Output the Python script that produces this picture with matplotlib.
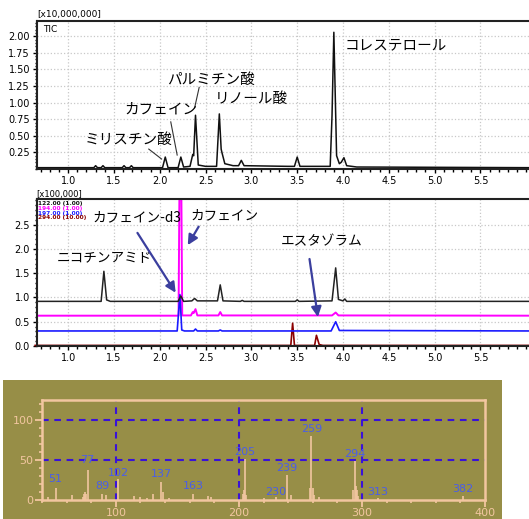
import matplotlib
matplotlib.use('Agg')
import matplotlib.pyplot as plt
from matplotlib.patches import Rectangle
from matplotlib.ticker import MultipleLocator, FormatStrFormatter

JP = ['Noto Sans CJK JP', 'DejaVu Sans']

# TIC trace (retention time in min, intensity x10,000,000)
tic_t = [0.66, 1.28, 1.30, 1.32, 1.36, 1.38, 1.40, 1.59, 1.61, 1.63, 1.67, 1.69, 1.71,
         2.03, 2.06, 2.09, 2.20, 2.23, 2.26, 2.33, 2.36, 2.37, 2.39, 2.42, 2.50,
         2.62, 2.65, 2.67, 2.68, 2.71, 2.80, 2.86, 2.89, 2.92,
         3.40, 3.47, 3.50, 3.53, 3.86, 3.88, 3.90, 3.93, 3.96, 3.98, 4.01, 4.04, 4.15, 6.03]
tic_y = [0.02, 0.02, 0.05, 0.02, 0.02, 0.05, 0.02, 0.02, 0.05, 0.02, 0.02, 0.05, 0.02,
         0.02, 0.18, 0.02, 0.02, 0.18, 0.03, 0.04, 0.22, 0.20, 0.81, 0.06, 0.04,
         0.04, 0.83, 0.30, 0.24, 0.08, 0.05, 0.05, 0.13, 0.05,
         0.04, 0.04, 0.18, 0.04, 0.04, 0.80, 2.06, 0.20, 0.08, 0.10, 0.17, 0.05, 0.03, 0.02]

# SIM traces (x100,000, offset as displayed)
sim_black_t = [0.64, 1.36, 1.39, 1.42, 1.46, 2.20, 2.23, 2.26, 2.35, 2.38, 2.41, 2.63, 2.66, 2.69,
               2.88, 2.90, 2.92, 3.48, 3.50, 3.52, 3.88, 3.92, 3.95, 4.00, 4.02, 4.04, 6.03]
sim_black_y = [0.92, 0.92, 1.54, 0.95, 0.92, 0.92, 1.03, 0.92, 0.93, 0.98, 0.93, 0.93, 1.26, 0.93,
               0.92, 0.94, 0.92, 0.92, 0.95, 0.92, 0.93, 1.61, 0.96, 0.93, 0.97, 0.92, 0.92]
sim_mag_t = [0.64, 2.205, 2.215, 2.235, 2.245, 2.34, 2.36, 2.37, 2.39, 2.41, 2.64, 2.66, 2.68,
             3.88, 3.92, 3.95, 6.03]
sim_mag_y = [0.625, 0.625, 3.3, 3.3, 0.63, 0.63, 0.70, 0.68, 0.76, 0.63, 0.63, 0.70, 0.63,
             0.63, 0.69, 0.63, 0.625]
sim_blue_t = [0.64, 2.19, 2.22, 2.24, 2.27, 2.37, 2.39, 2.41, 2.64, 2.66, 2.68, 3.87, 3.92, 3.96, 6.03]
sim_blue_y = [0.31, 0.31, 1.06, 0.33, 0.31, 0.31, 0.35, 0.31, 0.31, 0.33, 0.31, 0.31, 0.50, 0.32, 0.31]
sim_red_t = [0.64, 3.43, 3.45, 3.47, 3.69, 3.71, 3.74, 3.78, 6.03]
sim_red_y = [0.012, 0.012, 0.47, 0.012, 0.012, 0.22, 0.03, 0.012, 0.012]
sim_labels = ['122.00 (1.00)', '194.00 (1.00)', '197.00 (1.00)', '294.00 (10.00)']

# mass spectrum
ms_mz = [45, 51, 64, 73, 74, 75, 76, 77, 89, 92, 102, 115, 120, 125, 130, 137, 138, 143, 163,
         175, 177, 203, 204, 205, 206, 220, 230, 239, 242, 258, 259, 260, 261, 265,
         293, 294, 295, 296, 297, 313, 382]
ms_int = [4, 15, 6, 4, 7, 10, 8, 38, 7, 6, 26, 5, 4, 3, 7, 23, 10, 3, 8,
          5, 4, 8, 12, 51, 6, 3, 4, 31, 6, 15, 80, 15, 6, 4,
          12, 49, 18, 12, 5, 3, 5]
ms_label_mz = [51, 77, 89, 102, 137, 163, 205, 230, 239, 259, 294, 313, 382]
ms_label_y = [26, 50, 17.5, 34, 32.5, 17.5, 60, 10.4, 40.4, 88.7, 57, 10.4, 13.4]

time_ticks = [1.0, 1.5, 2.0, 2.5, 3.0, 3.5, 4.0, 4.5, 5.0, 5.5]

fig = plt.figure(figsize=(5.29, 5.19), dpi=100)

def style_chrom(ax):
  for s in ['left', 'bottom', 'top']:
    ax.spines[s].set_linewidth(1.5)
    ax.spines[s].set_color('#222222')
  ax.spines['right'].set_visible(False)
  ax.set_xticks(time_ticks)
  ax.xaxis.set_minor_locator(MultipleLocator(0.1))
  ax.xaxis.set_major_formatter(FormatStrFormatter('%.1f'))
  ax.tick_params(which='major', direction='out', length=3, width=1, labelsize=7, pad=2)
  ax.tick_params(which='minor', direction='out', length=1.8, width=1)
  ax.grid(True, which='major', color='#c8c8c8', linestyle=':', linewidth=0.9)
  ax.set_xlim(0.66, 6.03)

# top: TIC
ax1 = fig.add_axes([37/529, 1-169/519, 1-37/529, 148/519])
ax1.plot(tic_t, tic_y, color='#111111', lw=1.1)
style_chrom(ax1)
ax1.set_ylim(0, 2.23)
ax1.set_yticks([0.25, 0.5, 0.75, 1.0, 1.25, 1.5, 1.75, 2.0])
ax1.yaxis.set_minor_locator(MultipleLocator(0.05))
ax1.yaxis.set_major_formatter(FormatStrFormatter('%.2f'))
ax1.text(0.012, 0.975, 'TIC', transform=ax1.transAxes, fontsize=6.5, va='top')
fig.text(37/529, 1-15/519, '[x10,000,000]', fontsize=6.5, va='center')

top_notes = [('コレステロール', 4.02, 1.86, None),
             ('パルミチン酸', 2.08, 1.34, (2.43, 1.23, 2.38, 0.92)),
             ('リノール酸', 2.60, 1.05, None),
             ('カフェイン', 1.61, 0.89, (2.12, 0.71, 2.19, 0.21)),
             ('ミリスチン酸', 1.18, 0.44, (1.88, 0.30, 2.02, 0.15))]
for txt, x, y, seg in top_notes:
  ax1.text(x, y, txt, family=JP, fontsize=10.5, va='center', ha='left')
  if seg:
    ax1.plot([seg[0], seg[2]], [seg[1], seg[3]], color='#333333', lw=0.8)

# middle: SIM
ax2 = fig.add_axes([37/529, 1-346/519, 1-37/529, 147/519])
ax2.plot(sim_red_t, sim_red_y, color='#8b0000', lw=1.2, clip_on=False)
ax2.plot(sim_mag_t, sim_mag_y, color='#ff00ff', lw=1.4)
ax2.plot(sim_blue_t, sim_blue_y, color='#1a1aff', lw=1.2)
ax2.plot(sim_black_t, sim_black_y, color='#222222', lw=1.1)
style_chrom(ax2)
ax2.set_ylim(0, 3.03)
ax2.set_yticks([0.0, 0.5, 1.0, 1.5, 2.0, 2.5])
ax2.yaxis.set_minor_locator(MultipleLocator(0.1))
ax2.yaxis.set_major_formatter(FormatStrFormatter('%.1f'))
fig.text(36/529, 1-194/519, '[x100,000]', fontsize=6, va='center')
for lab, col, yy in zip(sim_labels, ['#111111', '#ff00ff', '#1a1aff', '#8b0000'],
                        [0.972, 0.938, 0.904, 0.872]):
  ax2.text(0.003, yy, lab, color=col, fontsize=4.2, fontweight='bold',
           transform=ax2.transAxes, va='center')

mid_notes = [('ニコチンアミド', 0.88, 1.81, None),
             ('カフェイン-d3', 1.26, 2.65, (1.74, 2.38, 2.19, 1.05)),
             ('カフェイン', 2.33, 2.70, (2.44, 2.51, 2.29, 2.03)),
             ('エスタゾラム', 3.32, 2.17, (3.63, 1.85, 3.73, 0.54))]
for txt, x, y, arr in mid_notes:
  ax2.text(x, y, txt, family=JP, fontsize=9.8, va='center', ha='left')
  if arr:
    ax2.annotate('', xy=(arr[2], arr[3]), xytext=(arr[0], arr[1]),
                 arrowprops=dict(arrowstyle='-|>,head_length=0.6,head_width=0.3',
                                 color='#3b3f9e', lw=1.6))

# bottom: mass spectrum on olive panel
fig.patches.append(Rectangle((3/529, 0), 499/529, 139/519, transform=fig.transFigure,
                             facecolor='#978e47', edgecolor='none', zorder=-5))
peach = '#f2c6a0'
ax3 = fig.add_axes([42/529, 19/519, 443/529, 100/519])
ax3.set_zorder(2)
ax3.set_facecolor('#978e47')
ax3.set_xlim(40, 400)
ax3.set_ylim(0, 125)
for v in [50, 100]:
  ax3.axhline(v, color='#3a12d8', lw=1.5, dashes=(3.2, 2.7), zorder=1)
for v in [100, 200, 300]:
  ax3.axvline(v, color='#3a12d8', lw=1.5, dashes=(3.2, 2.7), zorder=1)
ax3.vlines(ms_mz, 0, ms_int, color=peach, lw=1.2, zorder=2)
for m, y in zip(ms_label_mz, ms_label_y):
  ax3.text(m, y, str(m), color='#4a5ee8', fontsize=8, ha='center', va='center', zorder=3)
for s in ax3.spines.values():
  s.set_color(peach)
  s.set_linewidth(1.8)
ax3.set_xticks([100, 200, 300, 400])
ax3.xaxis.set_minor_locator(MultipleLocator(20))
ax3.set_yticks([0, 50, 100])
ax3.yaxis.set_minor_locator(MultipleLocator(10))
ax3.tick_params(which='major', direction='out', length=5, width=1.3, colors=peach,
                labelsize=8, pad=1)
ax3.tick_params(which='minor', direction='out', length=2.5, width=1.2, colors=peach)

fig.savefig('out.png', dpi=100)
